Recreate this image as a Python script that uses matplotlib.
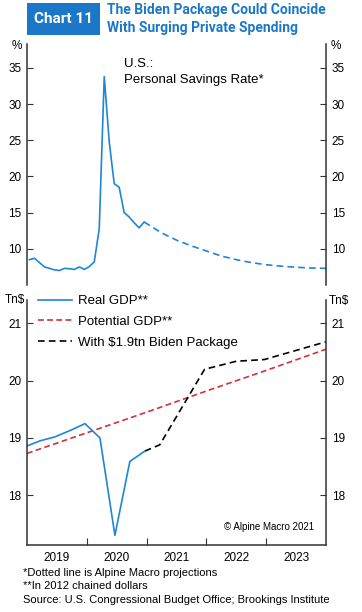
import matplotlib.pyplot as plt
import matplotlib as mpl
from matplotlib.patches import Rectangle
import numpy as np

mpl.rcParams['font.family'] = ['Liberation Sans', 'DejaVu Sans']

BLUE = '#1f86d6'
RED = '#d0343a'
SPINE = '#333333'

# personal savings rate, monthly from Jan 2019 (plotted at mid-month)
sav_months = np.arange(24)
sav_actual = [8.5, 8.7, 8.1, 7.5, 7.3, 7.1, 7.0, 7.3, 7.25, 7.15, 7.5, 7.15,
              7.55, 8.2, 12.8, 33.8, 24.8, 19.0, 18.5, 15.0, 14.4, 13.6, 12.9, 13.7]
# projection (dotted)
proj_x = [2020.96, 2021.25, 2021.5, 2021.75, 2022.0, 2022.25, 2022.5, 2022.75,
          2023.0, 2023.25, 2023.5, 2023.75, 2024.0]
proj_sav = [13.7, 12.2, 11.2, 10.4, 9.7, 9.0, 8.5, 8.1, 7.8, 7.6, 7.45, 7.35, 7.3]

# GDP, Tn$ (2012 chained dollars)
gdp_x = [2019.0, 2019.22, 2019.47, 2019.72, 2019.97, 2020.22, 2020.47, 2020.72, 2020.97]
real_gdp = [18.86, 18.95, 19.02, 19.13, 19.25, 19.0, 17.3, 18.59, 18.77]
biden_x = [2020.97, 2021.22, 2021.97, 2022.5, 2022.97, 2024.0]
biden_gdp = [18.77, 18.88, 20.2, 20.34, 20.37, 20.68]
pot_x = [2019, 2020, 2021, 2022, 2023, 2024]
pot_gdp = [18.73, 19.09, 19.45, 19.82, 20.18, 20.55]

years = [2019, 2020, 2021, 2022, 2023]

W, H = 362, 612
fig = plt.figure(figsize=(W / 100, H / 100), dpi=100)

def fx(px):
    return px / W

def fy(py):
    return 1 - py / H

left, right = 27, 326
ax1 = fig.add_axes([fx(left), fy(285), fx(right - left), (285 - 44) / H])
ax2 = fig.add_axes([fx(left), fy(545), fx(right - left), (545 - 300) / H])

for ax in (ax1, ax2):
    for s in ax.spines.values():
        s.set_color(SPINE)
        s.set_linewidth(1.1)
    ax.spines['top'].set_visible(False)
    ax.set_xlim(2019, 2024)
    ax.tick_params(axis='y', direction='in', left=True, right=True,
                   labelleft=True, labelright=True, length=4, width=0.8,
                   color=SPINE, labelsize=8.5, pad=4)

ax1.spines['bottom'].set_visible(False)
ax1.set_xticks([])
ax1.set_ylim(5, 38.3)
ax1.set_yticks([10, 15, 20, 25, 30, 35])

sav_x = [2019 + (m + 0.5) / 12 for m in sav_months]
ax1.plot(sav_x, sav_actual, color=BLUE, lw=1.2)
ax1.plot(proj_x, proj_sav, color=BLUE, lw=1.2, dashes=(4, 2.5))
ax1.text(fx(124), fy(64), 'U.S.:', transform=fig.transFigure, fontsize=9.5, va='center')
ax1.text(fx(124), fy(80), 'Personal Savings Rate*', transform=fig.transFigure,
         fontsize=9.5, va='center')

ax2.set_ylim(17.13, 21.41)
ax2.set_yticks([18, 19, 20, 21])
ax2.plot(pot_x, pot_gdp, color=RED, lw=1.2, dashes=(3.5, 2), label='Potential GDP**')
ax2.plot(biden_x, biden_gdp, color='black', lw=1.2, dashes=(4, 2.5),
         label='With $1.9tn Biden Package')
ax2.plot(gdp_x, real_gdp, color=BLUE, lw=1.2, label='Real GDP**')
ax2.set_xticks([2020, 2021, 2022, 2023])
ax2.set_xticklabels([])
ax2.set_xticks([y + 0.5 for y in years], minor=True)
ax2.set_xticklabels([str(y) for y in years], minor=True)
ax2.tick_params(axis='x', which='major', direction='in', length=5, width=0.8, color=SPINE)
ax2.tick_params(axis='x', which='minor', length=0, labelsize=8.5, pad=5)

h, l = ax2.get_legend_handles_labels()
order = [2, 0, 1]
ax2.legend([h[i] for i in order], [l[i] for i in order], loc='upper left',
           bbox_to_anchor=(fx(38), fy(295)), bbox_transform=fig.transFigure,
           frameon=False, fontsize=9.5, handlelength=2.6, handletextpad=0.45,
           labelspacing=0.65, borderpad=0, borderaxespad=0)

ax2.text(fx(314), fy(527), '\u00a9 Alpine Macro 2021', transform=fig.transFigure,
         fontsize=7, ha='right', va='center')

# unit labels
fig.text(fx(17), fy(46), '%', fontsize=8.5, ha='center', va='center')
fig.text(fx(336), fy(46), '%', fontsize=8.5, ha='center', va='center')
fig.text(fx(15), fy(300), 'Tn$', fontsize=8.5, ha='center', va='center')
fig.text(fx(339), fy(301), 'Tn$', fontsize=8.5, ha='center', va='center')

# title
TITLE_FONT = ['Roboto', 'Liberation Sans']
fig.patches.append(Rectangle((fx(27), fy(35)), fx(73), 32 / H, transform=fig.transFigure,
                             facecolor='#1b78c8', edgecolor='none'))
fig.text(fx(63.5), fy(19), 'Chart 11', color='white', fontsize=11, fontweight='bold',
         ha='center', va='center', family=TITLE_FONT)
fig.text(fx(107), fy(10), 'The Biden Package Could Coincide', color='#1b78c8',
         fontsize=10, fontweight='bold', ha='left', va='center', family=TITLE_FONT)
fig.text(fx(107), fy(28), 'With Surging Private Spending', color='#1b78c8',
         fontsize=10, fontweight='bold', ha='left', va='center', family=TITLE_FONT)

# footnotes
notes = ['*Dotted line is Alpine Macro projections', '**In 2012 chained dollars',
         'Source: U.S. Congressional Budget Office; Brookings Institute']
for i, n in enumerate(notes):
    fig.text(fx(23), fy(572.5 + 13.8 * i), n, fontsize=8, ha='left', va='center')

fig.savefig('out.png', dpi=100)
